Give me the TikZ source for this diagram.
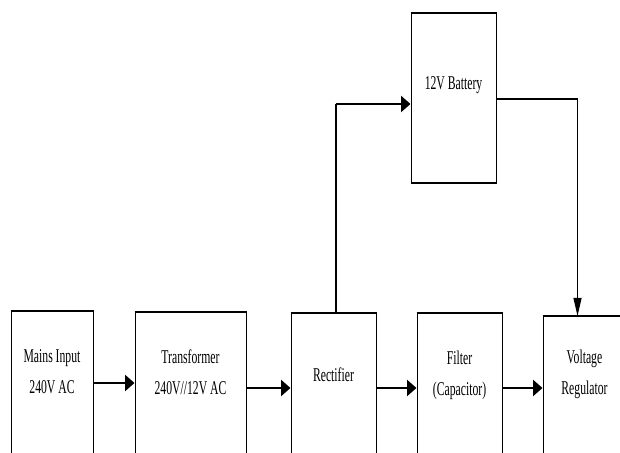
\documentclass[tikz,border=0pt]{standalone}
\usepackage{fontspec}
\setmainfont{Liberation Serif}[FakeStretch=0.6]
\usetikzlibrary{arrows.meta, positioning}

\begin{document}
\begin{tikzpicture}[x=1pt, y=1pt,
        block/.style={draw, line width=1pt, minimum height=200pt, anchor=north, inner sep=0pt},
        txt/.style={align=center, font=\fontsize{19.5}{31}\selectfont},
        arr/.style={-{Triangle[length=9.5pt,width=16pt]}, line width=2.6pt},
        wire/.style={line width=1.1pt}]
        \clip (0,0) rectangle (620,452);
        \fill[white] (0,0) rectangle (620,452);

        % Blocks
        \node[block, minimum width=82pt] (mains) at (52,141) {};
        \node[block, minimum width=111pt] (trans) at (190.5,140) {};
        \node[block, minimum width=85pt] (rect) at (333.5,139) {};
        \node[block, minimum width=85pt] (filter) at (459.5,139) {};
        \node[block, minimum width=85pt] (reg) at (585.5,136) {};
        \node[block, minimum width=85pt, minimum height=169pt] (batt) at (453.5,439) {};

        % Thicker top edges
        \foreach \b in {mains, trans, rect, filter, reg, batt}
            \draw[line width=2pt] (\b.north west) -- (\b.north east);
        \draw[line width=2pt] (batt.south west) -- (batt.south east);

        % Labels
        \node[txt] (mainstxt) at ([yshift=-61pt]mains.north) {Mains Input\\240V AC};
        \node[txt] (transtxt) at ([yshift=-60pt]trans.north) {Transformer\\240V//12V AC};
        \node[txt] (recttxt) at ([yshift=-62pt]rect.north) {Rectifier};
        \node[txt] (filtertxt) at ([yshift=-62pt]filter.north) {Filter\\(Capacitor)};
        \node[txt] (regtxt) at ([yshift=-58pt,xshift=-1pt]reg.north) {Voltage\\Regulator};
        \node[txt] (batttxt) at ([yshift=-72pt]batt.north) {12V Battery};

        % Arrows
        \draw[arr] (mains.east |- 0,69) -- (trans.west |- 0,69);
        \draw[arr] (trans.east |- 0,64) -- (rect.west |- 0,64);
        \draw[arr] (rect.east |- 0,64) -- (filter.west |- 0,64);
        \draw[arr] (filter.east |- 0,64) -- (reg.west |- 0,64);

        % Battery branch
        \draw[wire] ([xshift=2.5pt]rect.north) -- ([xshift=2.5pt]rect.north |- 0,348);
        \draw[arr] ([xshift=2pt]rect.north |- 0,348) -- (batt.west |- 0,348);
        \draw[line width=2.4pt] (batt.east |- 0,353) -- ([xshift=-8.5pt]reg.north |- 0,353);
        \draw[wire, -{Triangle[length=18pt,width=8pt]}] ([xshift=-8pt]reg.north |- 0,354) -- ([xshift=-8pt]reg.north);
\end{tikzpicture}
\end{document}
